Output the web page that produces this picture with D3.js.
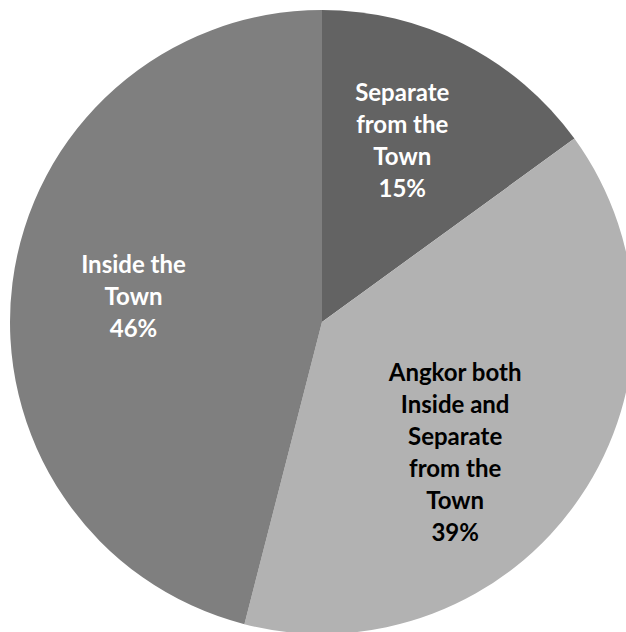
<!DOCTYPE html>
<html>
<head>
<meta charset="utf-8">
<script src="https://cdn.jsdelivr.net/npm/d3@7"></script>
<style>
  html, body { margin: 0; padding: 0; background: #fff; }
  svg { display: block; }
  text { font-family: Lato, "Open Sans", sans-serif; font-weight: 700; }
</style>
</head>
<body>
<div id="chart"></div>
<script>
// Where Angkor-period temples sit relative to the town
const categories = [
  "Separate from the Town",
  "Angkor both Inside and Separate from the Town",
  "Inside the Town"
];
const shares = [15, 39, 46];
const labelLines = [
  ["Separate", "from the", "Town"],
  ["Angkor both", "Inside and", "Separate", "from the", "Town"],
  ["Inside the", "Town"]
];
const sliceColors = ["#636363", "#b2b2b2", "#7f7f7f"];
const textColors = ["#ffffff", "#000000", "#ffffff"];

const width = 626, height = 632;
const cx = 322, cy = 322, radius = 312;
const lineHeight = 32;
// small per-label shifts so each text block sits like the original layout
const labelShift = [[-6, -4], [-24, 32], [0, 7]];

const svg = d3.select("#chart").append("svg")
  .attr("width", width).attr("height", height);

const g = svg.append("g").attr("transform", `translate(${cx},${cy})`);

const data = categories.map((c, i) => ({ name: c, value: shares[i], i }));
const pie = d3.pie().sort(null).value(d => d.value);
const arcs = pie(data);

const arc = d3.arc().innerRadius(0).outerRadius(radius);
const labelArc = d3.arc().innerRadius(190).outerRadius(190);

g.selectAll("path.slice")
  .data(arcs)
  .join("path")
  .attr("class", "slice")
  .attr("d", arc)
  .attr("fill", d => sliceColors[d.data.i]);

const labels = g.selectAll("text.lbl")
  .data(arcs)
  .join("text")
  .attr("class", "lbl")
  .attr("text-anchor", "middle")
  .attr("font-size", 24)
  .attr("fill", d => textColors[d.data.i])
  .each(function (d) {
    const lines = labelLines[d.data.i].concat([d.data.value + "%"]);
    const [px, py] = labelArc.centroid(d);
    const [sx, sy] = labelShift[d.data.i];
    const x = px + sx;
    const midY = py + sy;
    const firstY = midY - (lines.length - 1) * lineHeight / 2;
    const t = d3.select(this);
    lines.forEach((ln, k) => {
      t.append("tspan")
        .attr("x", x)
        .attr("y", firstY + k * lineHeight)
        .text(ln);
    });
  });
</script>
</body>
</html>
